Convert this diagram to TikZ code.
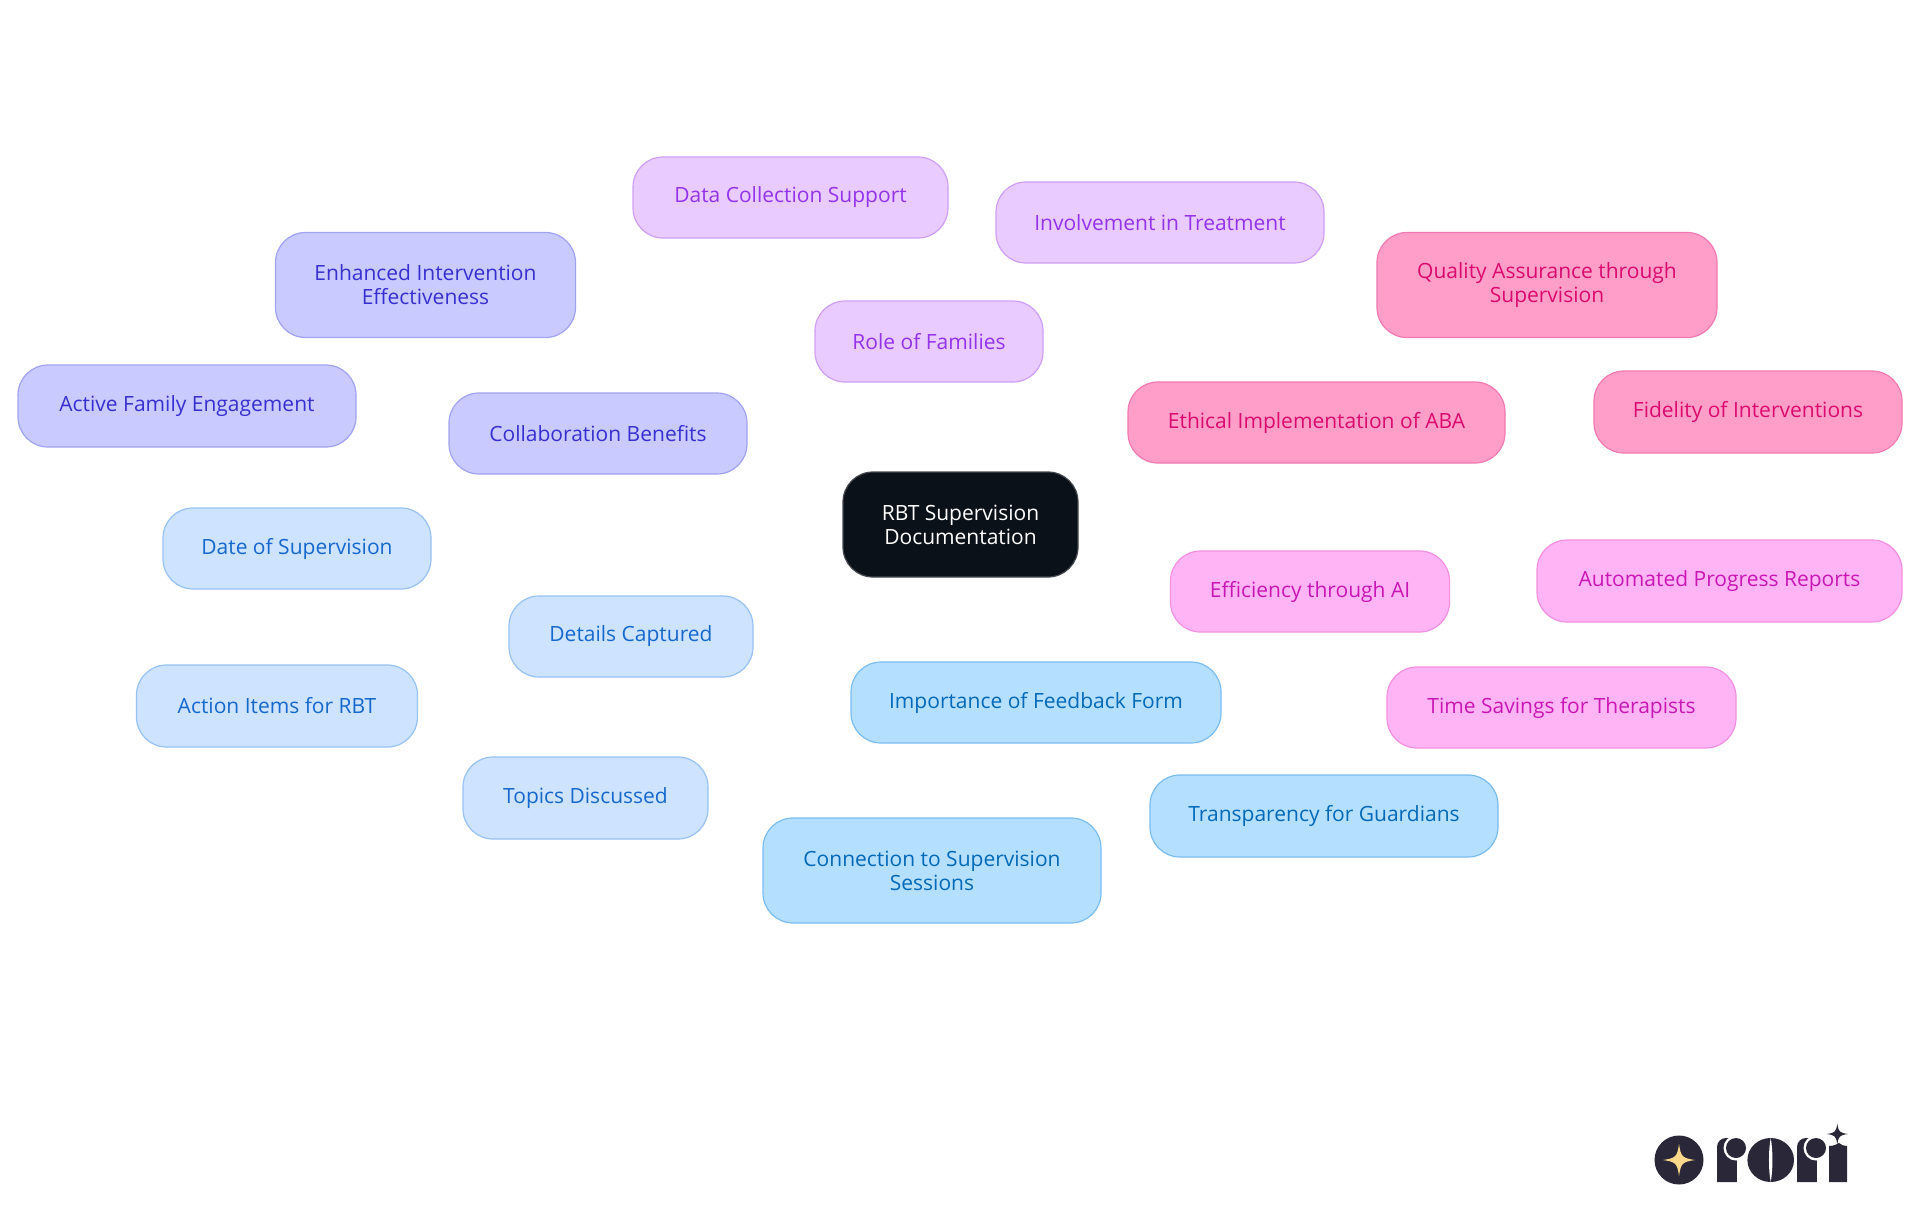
\documentclass[tikz,border=0pt]{standalone}
\usepackage{fontspec}
\setmainfont{Open Sans}
\usetikzlibrary{backgrounds}
\definecolor{rootfill}{HTML}{0B1119}\definecolor{rootline}{HTML}{45494F}
\definecolor{indF}{HTML}{C9CAFF}\definecolor{indL}{HTML}{A0A3F2}\definecolor{indT}{HTML}{3730D0}
\definecolor{purF}{HTML}{E9CBFF}\definecolor{purL}{HTML}{CE9FF5}\definecolor{purT}{HTML}{9333EA}
\definecolor{pnkF}{HTML}{FF9FC9}\definecolor{pnkL}{HTML}{F279B3}\definecolor{pnkT}{HTML}{DB0A6E}
\definecolor{fusF}{HTML}{FFB5F5}\definecolor{fusL}{HTML}{F48FE0}\definecolor{fusT}{HTML}{C917B5}
\definecolor{bluF}{HTML}{B5DFFF}\definecolor{bluL}{HTML}{7ABDF0}\definecolor{bluT}{HTML}{0369B8}
\definecolor{skyF}{HTML}{CDE3FF}\definecolor{skyL}{HTML}{97C2F3}\definecolor{skyT}{HTML}{1668CC}
\definecolor{logoink}{HTML}{2A2838}\definecolor{logostar}{HTML}{FBD88A}
\tikzset{
  x=1pt,y=-1pt,
  mind/.style={rounded corners=30pt,inner sep=0pt,align=center,line width=1.2pt,
    font=\fontsize{21}{24}\selectfont},
  indn/.style={mind,draw=indL,fill=indF,text=indT},
  purn/.style={mind,draw=purL,fill=purF,text=purT},
  pnkn/.style={mind,draw=pnkL,fill=pnkF,text=pnkT},
  fusn/.style={mind,draw=fusL,fill=fusF,text=fusT},
  blun/.style={mind,draw=bluL,fill=bluF,text=bluT},
  skyn/.style={mind,draw=skyL,fill=skyF,text=skyT},
  rootn/.style={mind,draw=rootline,fill=rootfill,text=white},
  edge/.style={line width=3.4pt},
  pick/.style n args={2}{minimum width=#1pt,minimum height=#2pt},
}
\newcommand{\sparkle}[4]{\fill[#4] (#1-#3,#2) .. controls (#1-0.2*#3,#2-0.12*#3) and (#1-0.12*#3,#2-0.2*#3) .. (#1,#2-#3)
  .. controls (#1+0.12*#3,#2-0.2*#3) and (#1+0.2*#3,#2-0.12*#3) .. (#1+#3,#2)
  .. controls (#1+0.2*#3,#2+0.12*#3) and (#1+0.12*#3,#2+0.2*#3) .. (#1,#2+#3)
  .. controls (#1-0.12*#3,#2+0.2*#3) and (#1-0.2*#3,#2+0.12*#3) .. (#1-#3,#2) -- cycle;}
\begin{document}
\begin{tikzpicture}
\useasboundingbox[fill=white] (0,0) rectangle (1920,1215);
\node[rootn,pick={235}{105}] (root) at (960.5,524.5) {RBT Supervision\\Documentation};
\node[indn,pick={298}{81}] (collab) at (598,433.5) {Collaboration Benefits};
\node[indn,pick={300}{105}] (enh) at (425.5,285) {Enhanced Intervention\\Effectiveness};
\node[indn,pick={338}{82}] (active) at (187,406) {Active Family Engagement};
\node[purn,pick={228}{81}] (role) at (929,341.5) {Role of Families};
\node[purn,pick={315}{81}] (data) at (790.5,197.5) {Data Collection Support};
\node[purn,pick={328}{81}] (inv) at (1160,222.5) {Involvement in Treatment};
\node[pnkn,pick={377}{81}] (eth) at (1316.5,422.5) {Ethical Implementation of ABA};
\node[pnkn,pick={340}{105}] (qual) at (1547,285) {Quality Assurance through\\Supervision};
\node[pnkn,pick={308}{82}] (fid) at (1748,412) {Fidelity of Interventions};
\node[fusn,pick={279}{81}] (eff) at (1310,591.5) {Efficiency through AI};
\node[fusn,pick={365}{82}] (auto) at (1719.5,581) {Automated Progress Reports};
\node[fusn,pick={349}{81}] (time) at (1561.5,707.5) {Time Savings for Therapists};
\node[blun,pick={370}{81}] (imp) at (1036,702.5) {Importance of Feedback Form};
\node[blun,pick={348}{82}] (trans) at (1324,816) {Transparency for Guardians};
\node[blun,pick={338}{105}] (conn) at (932,870.5) {Connection to Supervision\\Sessions};
\node[skyn,pick={244}{81}] (det) at (631,636.5) {Details Captured};
\node[skyn,pick={268}{81}] (date) at (297,548.5) {Date of Supervision};
\node[skyn,pick={281}{82}] (action) at (277,706) {Action Items for RBT};
\node[skyn,pick={245}{82}] (topics) at (585.5,798) {Topics Discussed};
\begin{scope}[on background layer]
  \draw[edge,indL] (root.center) -- (collab.center);
  \draw[edge,indL] (collab.center) -- (enh.center);
  \draw[edge,indL] (collab.center) -- (active.center);
  \draw[edge,purL] (root.center) -- (role.center);
  \draw[edge,purL] (role.center) -- (data.center);
  \draw[edge,purL] (role.center) -- (inv.center);
  \draw[edge,pnkL] (root.center) -- (eth.center);
  \draw[edge,pnkL] (eth.center) -- (qual.center);
  \draw[edge,pnkL] (eth.center) -- (fid.center);
  \draw[edge,fusL] (root.center) -- (eff.center);
  \draw[edge,fusL] (eff.center) -- (auto.center);
  \draw[edge,fusL] (eff.center) -- (time.center);
  \draw[edge,bluL] (root.center) -- (imp.center);
  \draw[edge,bluL] (imp.center) -- (trans.center);
  \draw[edge,bluL] (imp.center) -- (conn.center);
  \draw[edge,skyL] (root.center) -- (det.center);
  \draw[edge,skyL] (det.center) -- (date.center);
  \draw[edge,skyL] (det.center) -- (action.center);
  \draw[edge,skyL] (det.center) -- (topics.center);
\end{scope}
% logo
\fill[logoink] (1679,1160) circle[radius=24.5];
\sparkle{1679}{1160}{16}{logostar}
\fill[logoink,rounded corners=9pt] (1717,1182) -- (1717,1138) -- (1737,1138) -- (1737,1182);
\fill[logoink] (1717,1182) rectangle (1737,1165);
\fill[white] (1736,1148) circle[radius=12.5];
\fill[white] (1737.3,1136) rectangle (1750,1182);
\fill[logoink] (1736,1148) circle[radius=10];
\fill[logoink] (1770.7,1160) ellipse[x radius=23.3,y radius=22];
\fill[white] (1770.7,1138) .. controls (1773,1150) and (1773,1170) .. (1770.7,1182) .. controls (1768.4,1170) and (1768.4,1150) .. (1770.7,1138) -- cycle;
\fill[logoink,rounded corners=9pt] (1797,1182) -- (1797,1138) -- (1817,1138) -- (1817,1182);
\fill[logoink] (1797,1182) rectangle (1817,1165);
\fill[white] (1816,1148) circle[radius=12.5];
\fill[white] (1817.3,1136) rectangle (1828,1182);
\fill[logoink] (1816,1148) circle[radius=10];
\fill[logoink] (1829,1182) -- (1829,1146) .. controls (1834,1146) and (1837,1144) .. (1839,1143) .. controls (1841,1145) and (1844,1146) .. (1847,1146) -- (1847,1182) -- cycle;
\sparkle{1837.3}{1134}{10.5}{logoink}
\end{tikzpicture}
\end{document}
